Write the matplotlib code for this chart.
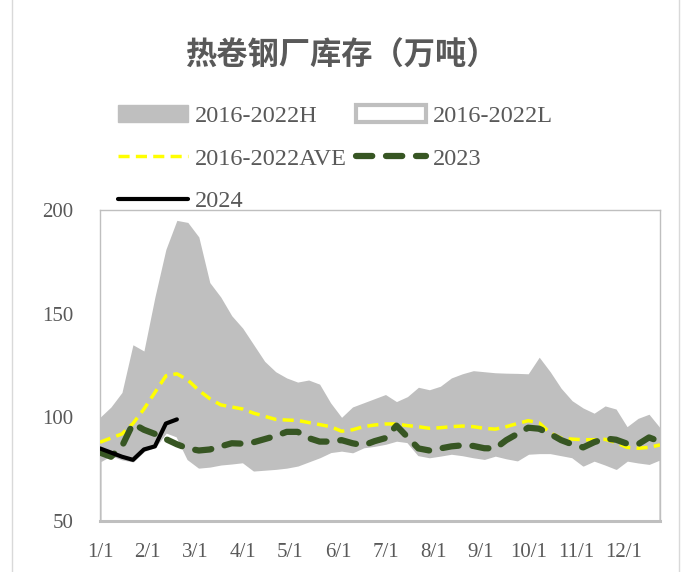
import numpy as np
import matplotlib
matplotlib.use("Agg")
import matplotlib.pyplot as plt
from matplotlib.patches import Patch
from matplotlib.lines import Line2D

# weekly data, 52 weeks
high = [100, 105, 112, 135, 132, 158, 181, 195, 194, 187, 165, 158, 149, 143,
        135, 127, 122, 119, 117, 118, 116, 107, 100, 105, 107, 109, 111, 107.6,
        110, 114.5, 113.3, 115, 119, 121, 122.5, 122, 121.5, 121.3, 121.2, 121,
        129, 122, 114, 108, 104.5, 102, 105.5, 104, 95.5, 99.5, 101.5, 95]
low = [79, 82, 80, 79, 84, 86, 93, 91, 80, 76, 76.5, 77.5, 78, 78.6,
       74.6, 75, 75.4, 76, 77, 79, 81, 83.5, 84.2, 83.4, 85.8, 86.5, 87.5, 89,
       88.3, 82, 81, 81.8, 82.7, 82, 81, 80.2, 81.8, 80.5, 79.5, 82.7,
       83, 83, 82, 81, 77, 79.4, 77.5, 75.4, 79.4, 78.5, 77.8, 80]
ave = [88, 90, 92, 97, 104, 112, 120, 121, 118, 113, 109, 106, 105, 104,
       102, 100.5, 99, 98.7, 98.5, 97.5, 96.5, 95.5, 93.3, 94, 95.5, 96.3, 96.8, 96.8,
       96, 95.5, 94.7, 95, 95.5, 95.8, 95.5, 94.7, 94.3, 95.5, 97, 98.4,
       97.3, 92.5, 90, 89.5, 89.2, 89.2, 89.4, 87.8, 85.5, 85.1, 85.5, 86.7]
y2023 = [83, 81, 86, 97, 94, 92, 89.5, 87, 85, 84, 84.5, 86, 87.5, 87.3,
         88, 89.5, 91, 93, 93, 90, 88.3, 88.3, 89, 87.5, 86.5, 88.5, 90, 96,
         90.5, 85, 84, 85, 86, 86.5, 86.2, 85.1, 85, 89, 92, 95,
         94.5, 92, 89, 87, 85.5, 88, 89.8, 89.2, 87.3, 87, 90.3, 88.3]
y2024 = [85, 83, 81, 79.5, 84.5, 86, 97, 99]

month_labels = ["1/1", "2/1", "3/1", "4/1", "5/1", "6/1",
                "7/1", "8/1", "9/1", "10/1", "11/1", "12/1"]

GRAY = "#BFBFBF"
TXT = "#595959"
GREEN = "#375623"

plt.rcParams["font.family"] = ["Liberation Serif", "DejaVu Serif"]

fig = plt.figure(figsize=(6.84, 5.72), dpi=100)
ax = fig.add_axes([100 / 684, 1 - 521 / 572, 560 / 684, 311 / 572])

x = np.arange(len(high))
ax.fill_between(x, 50, high, color=GRAY, linewidth=0, zorder=1)
ax.fill_between(x, 50, low, facecolor="white", edgecolor=GRAY, linewidth=1.5, zorder=2)
ax.plot(x, ave, color="#FFFF00", linewidth=2.5, dashes=(3.2, 1.8), zorder=3)
ax.plot(x, y2023, color=GREEN, linewidth=4.5, dashes=(2.6, 2.2),
        dash_capstyle="round", zorder=4)
ax.plot(np.arange(len(y2024)), y2024, color="black", linewidth=3,
        solid_capstyle="round", zorder=5)

ax.set_xlim(0, len(high) - 1)
ax.set_ylim(50, 200)
ax.set_yticks([50, 100, 150, 200])
ax.set_xticks([m * 52 / 12 for m in range(12)])
ax.set_xticklabels(month_labels)
ax.tick_params(axis="both", length=0, labelsize=15, colors=TXT)
ax.tick_params(axis="y", pad=19)
ax.tick_params(axis="x", pad=16)
for side in ["left", "top", "right"]:
    ax.spines[side].set_color(GRAY)
    ax.spines[side].set_linewidth(1)
ax.spines["bottom"].set_color(GRAY)
ax.spines["bottom"].set_linewidth(2.2)

fig.text(0.5, 1 - 56 / 572, "热卷钢厂库存（万吨）", ha="center", va="center",
         fontsize=22.5, fontweight="bold", color=TXT,
         family=["Noto Sans CJK SC", "DejaVu Sans"])

handles = [
    Patch(facecolor=GRAY, edgecolor=GRAY),
    Line2D([], [], color="#FFFF00", linewidth=2.5, dashes=(3.2, 1.8)),
    Line2D([], [], color="black", linewidth=3, solid_capstyle="round"),
    Patch(facecolor="white", edgecolor=GRAY, linewidth=3),
    Line2D([], [], color=GREEN, linewidth=4.5, dashes=(2.6, 2.2), dash_capstyle="round"),
]
labels = ["2016-2022H", "2016-2022AVE", "2024", "2016-2022L", "2023"]
fig.legend(handles, labels, ncol=2, loc="upper left",
           bbox_to_anchor=(118 / 684, 1 - 105 / 572), frameon=False,
           borderpad=0, borderaxespad=0, fontsize=17.5, labelcolor=TXT,
           handlelength=2.88, handleheight=0.7, handletextpad=0.28,
           columnspacing=0.37, labelspacing=0.85)

# chart area border
fig.add_artist(Line2D([12 / 684, 12 / 684], [0, 1], color="#D9D9D9", linewidth=1))
fig.add_artist(Line2D([679 / 684, 679 / 684], [0, 1], color="#D9D9D9", linewidth=1))

fig.savefig("out.png", dpi=100)
